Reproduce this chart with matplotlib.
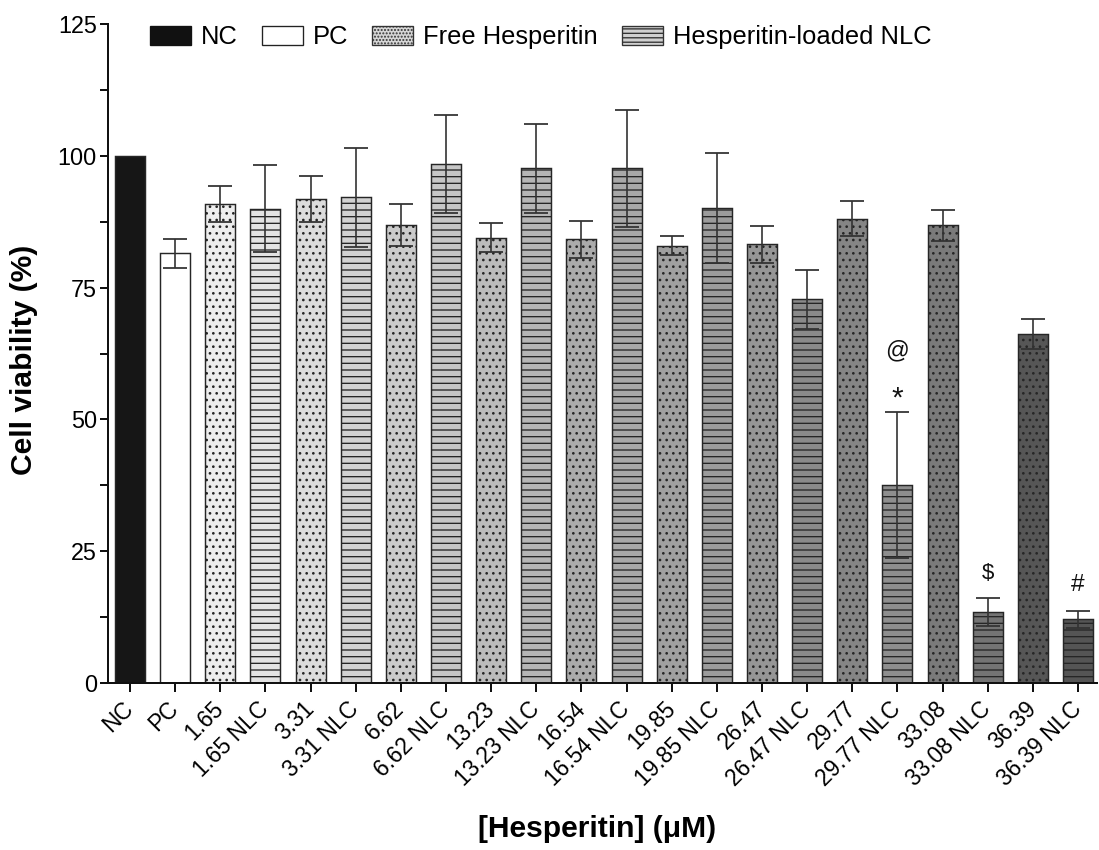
import numpy as np
import matplotlib
matplotlib.use("Agg")
import matplotlib.pyplot as plt
from matplotlib.patches import Patch

plt.rcParams['font.family'] = ['Liberation Sans', 'DejaVu Sans']
plt.rcParams['hatch.linewidth'] = 1.2

# data
groups = ['NC', 'PC', '1.65', '1.65 NLC', '3.31', '3.31 NLC', '6.62', '6.62 NLC',
          '13.23', '13.23 NLC', '16.54', '16.54 NLC', '19.85', '19.85 NLC',
          '26.47', '26.47 NLC', '29.77', '29.77 NLC', '33.08', '33.08 NLC',
          '36.39', '36.39 NLC']
kind = ['nc', 'pc'] + ['free', 'nlc'] * 10
viability = [100.0, 81.5, 90.9, 90.0, 91.8, 92.1, 86.8, 98.5, 84.5, 97.6,
             84.2, 97.6, 82.9, 90.1, 83.2, 72.8, 88.1, 37.6, 86.8, 13.5,
             66.2, 12.1]
sd = [0.0, 2.8, 3.4, 8.2, 4.3, 9.4, 4.0, 9.3, 2.8, 8.4,
      3.5, 11.1, 1.8, 10.4, 3.5, 5.6, 3.3, 13.8, 2.9, 2.6,
      2.8, 1.6]
# significance marks: (group, symbol, baseline y)
marks = [('29.77 NLC', '@', 61.8), ('29.77 NLC', '*', 52.5),
         ('33.08 NLC', '$', 19.7), ('36.39 NLC', '#', 17.4)]
legend_names = ['NC', 'PC', 'Free Hesperitin', 'Hesperitin-loaded NLC']

# styles
fills = ['#161616', '#ffffff', '#ededed', '#e3e3e3', '#dcdcdc', '#d2d2d2',
         '#cbcbcb', '#c6c6c6', '#bcbcbc', '#b5b5b5', '#ababab', '#a8a8a8',
         '#a0a0a0', '#9c9c9c', '#969696', '#8a8a8a', '#858585', '#8e8e8e',
         '#7a7a7a', '#747474', '#565656', '#555555']
hatches = {'nc': None, 'pc': None, 'free': '..', 'nlc': '--'}
edge = '#262626'

fig = plt.figure(figsize=(1099 / 80, 850 / 80), dpi=80)
ax = fig.add_axes([108 / 1099, 167 / 850, 989 / 1099, 659 / 850])

x = np.arange(len(groups))
for i in range(len(groups)):
    ax.bar(x[i], viability[i], width=0.665, color=fills[i], edgecolor=edge,
           linewidth=1.3, hatch=hatches[kind[i]], zorder=2)

err = np.array(sd)
has_err = err > 0
ax.errorbar(x[has_err], np.array(viability)[has_err], yerr=err[has_err], fmt='none',
            ecolor='#333333', elinewidth=1.5, capsize=11, capthick=1.6, zorder=3)

for g, sym, yv in marks:
    i = groups.index(g)
    size = {'*': 27, '@': 21, '$': 20, '#': 22}[sym]
    ax.text(x[i], yv, sym, ha='center', va='baseline', fontsize=size, color='#111111')

ax.set_xlim(-0.487, 21.42)
ax.set_ylim(0, 125)
ax.set_yticks([0, 25, 50, 75, 100, 125])
ax.set_yticks(np.arange(12.5, 125, 25), minor=True)
ax.set_xticks(x)
ax.set_xticklabels(groups, rotation=45, ha='right', va='center',
                   rotation_mode='anchor', fontsize=20.5)
ax.tick_params(axis='x', length=8, width=1.8, pad=12, color='#111111')
ax.tick_params(axis='y', which='both', length=7, width=1.8, pad=3,
               labelsize=21, color='#111111')
for s in ['top', 'right']:
    ax.spines[s].set_visible(False)
for s in ['left', 'bottom']:
    ax.spines[s].set_linewidth(1.8)
    ax.spines[s].set_color('#111111')

ax.set_ylabel('Cell viability (%)', fontsize=27, fontweight='bold')
ax.yaxis.set_label_coords(-0.071, 0.49)
ax.set_xlabel('[Hesperitin] (\u03bcM)', fontsize=27, fontweight='bold')
ax.xaxis.set_label_coords(0.494, -0.200)

handles = [Patch(facecolor='#111111', edgecolor='#111111', linewidth=1.2),
           Patch(facecolor='white', edgecolor='#222222', linewidth=1.2),
           Patch(facecolor='#d6d6d6', edgecolor='#333333', linewidth=1.2, hatch='....'),
           Patch(facecolor='#d0d0d0', edgecolor='#333333', linewidth=1.2, hatch='---')]
ax.legend(handles, legend_names, loc='upper left', bbox_to_anchor=(0.0425, 0.998),
          ncol=4, frameon=False, fontsize=23, handlelength=1.6, handleheight=0.73,
          handletextpad=0.39, columnspacing=0.95, borderpad=0, borderaxespad=0)

fig.savefig('out.png', dpi=80)
